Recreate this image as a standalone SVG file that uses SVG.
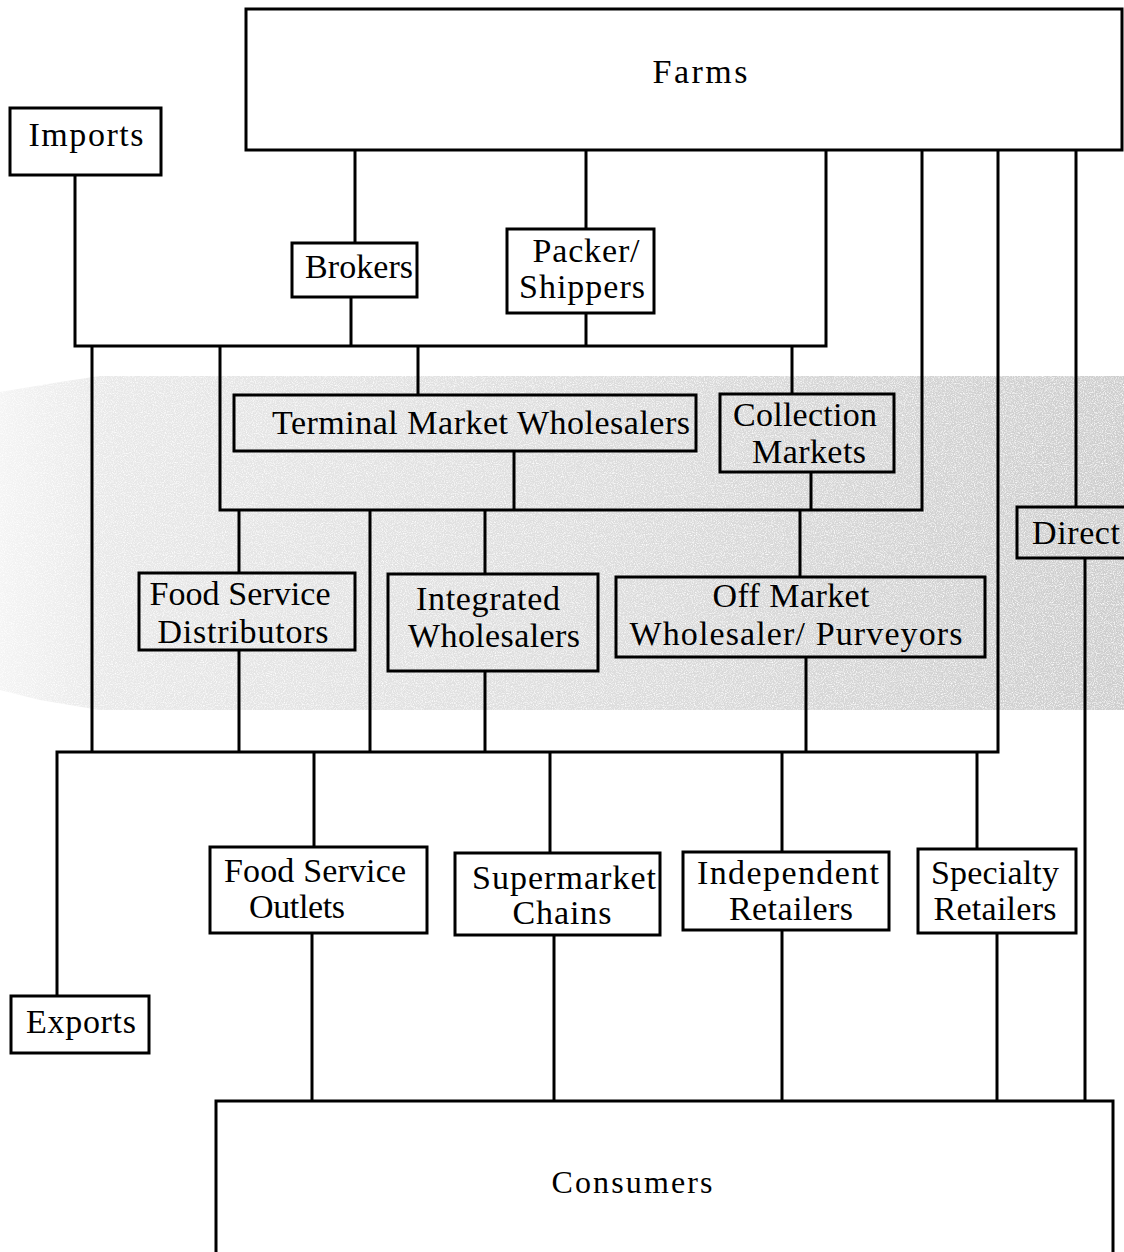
<svg xmlns="http://www.w3.org/2000/svg" width="1124" height="1252" viewBox="0 0 1124 1252">
<style>
.box{fill:#ffffff;stroke:#000;stroke-width:3}
.boxg{fill:none;stroke:#000;stroke-width:3}
.con{fill:none;stroke:#000;stroke-width:3}
text{font-family:"Liberation Serif","Times New Roman",serif;font-size:34px;fill:#000;text-anchor:middle}
</style>
<defs>
<linearGradient id="band" x1="0" y1="0" x2="1" y2="0">
<stop offset="0" stop-color="#f4f4f4"/>
<stop offset="0.1" stop-color="#e8e8e8"/>
<stop offset="0.5" stop-color="#dedede"/>
<stop offset="0.85" stop-color="#d2d2d2"/>
<stop offset="1" stop-color="#cdcdcd"/>
</linearGradient>
<filter id="speckle" x="0" y="0" width="1" height="1">
<feTurbulence type="fractalNoise" baseFrequency="0.9" numOctaves="2" seed="3" result="n"/>
<feColorMatrix in="n" type="matrix" values="0 0 0 0 1  0 0 0 0 1  0 0 0 0 1  0 0 0 -2.2 1.25" result="w"/>
<feComposite in="w" in2="SourceGraphic" operator="in" result="wm"/>
<feMerge><feMergeNode in="SourceGraphic"/><feMergeNode in="wm"/></feMerge>
</filter>
</defs>
<rect width="1124" height="1252" fill="#ffffff"/>
<g id="background-band">
<path d="M0 392 L60 382 L100 376 L1124 376 L1124 710 L100 710 L40 700 L0 690 Z" fill="url(#band)" filter="url(#speckle)"/>
</g>
<g id="connectors">
<path class="con" d="M355 150 V243"/>
<path class="con" d="M586 150 V229"/>
<path class="con" d="M75 175 V346 H826 V150"/>
<path class="con" d="M351 297 V346"/>
<path class="con" d="M586 313 V346"/>
<path class="con" d="M92 346 V752"/>
<path class="con" d="M220 346 V510 H922 V150"/>
<path class="con" d="M418 346 V395"/>
<path class="con" d="M792 346 V394"/>
<path class="con" d="M514 451 V510"/>
<path class="con" d="M811 472 V510"/>
<path class="con" d="M239 510 V573"/>
<path class="con" d="M370 510 V752"/>
<path class="con" d="M485 510 V574"/>
<path class="con" d="M800 510 V577"/>
<path class="con" d="M239 650 V752"/>
<path class="con" d="M485 671 V752"/>
<path class="con" d="M806 657 V752"/>
<path class="con" d="M57 996 V752 H998 V150"/>
<path class="con" d="M1076 150 V507"/>
<path class="con" d="M314 752 V847"/>
<path class="con" d="M550 752 V853"/>
<path class="con" d="M782 752 V852"/>
<path class="con" d="M977 752 V849"/>
<path class="con" d="M312 933 V1101"/>
<path class="con" d="M554 935 V1101"/>
<path class="con" d="M782 930 V1101"/>
<path class="con" d="M997 933 V1101"/>
<path class="con" d="M1085 558 V1101"/>
</g>
<g id="farms"><rect class="box" x="246" y="9" width="876" height="141"/><text x="700" y="83" textLength="95">Farms</text></g>
<g id="imports"><rect class="box" x="10" y="108" width="151" height="67"/><text x="86" y="146" textLength="115">Imports</text></g>
<g id="brokers"><rect class="box" x="292" y="243" width="125" height="54"/><text x="359" y="278" textLength="108">Brokers</text></g>
<g id="packer-shippers"><rect class="box" x="507" y="229" width="147" height="84"/><text x="586" y="262" textLength="107">Packer/</text><text x="582" y="298" textLength="126">Shippers</text></g>
<g id="terminal-market-wholesalers"><rect class="boxg" x="234" y="395" width="462" height="56"/><text x="481" y="434" textLength="418">Terminal Market Wholesalers</text></g>
<g id="collection-markets"><rect class="boxg" x="720" y="394" width="174" height="78"/><text x="805" y="426" textLength="144">Collection</text><text x="809" y="463" textLength="114">Markets</text></g>
<g id="food-service-distributors"><rect class="boxg" x="139" y="573" width="216" height="77"/><text x="240" y="605" textLength="181">Food Service</text><text x="243" y="643" textLength="171">Distributors</text></g>
<g id="integrated-wholesalers"><rect class="boxg" x="388" y="574" width="210" height="97"/><text x="488" y="610" textLength="144">Integrated</text><text x="494" y="647" textLength="172">Wholesalers</text></g>
<g id="off-market-wholesaler-purveyors"><rect class="boxg" x="616" y="577" width="369" height="80"/><text x="791" y="607" textLength="157">Off Market</text><text x="796" y="645" textLength="333">Wholesaler/ Purveyors</text></g>
<g id="direct"><rect class="boxg" x="1017" y="507" width="120" height="51"/><text x="1032" y="544" textLength="88" style="text-anchor:start">Direct</text></g>
<g id="food-service-outlets"><rect class="box" x="210" y="847" width="217" height="86"/><text x="315" y="882" textLength="182">Food Service</text><text x="297" y="918" textLength="96">Outlets</text></g>
<g id="supermarket-chains"><rect class="box" x="455" y="853" width="205" height="82"/><text x="564" y="889" textLength="184">Supermarket</text><text x="562" y="924" textLength="99">Chains</text></g>
<g id="independent-retailers"><rect class="box" x="683" y="852" width="206" height="78"/><text x="788" y="884" textLength="182">Independent</text><text x="791" y="920" textLength="124">Retailers</text></g>
<g id="specialty-retailers"><rect class="box" x="918" y="849" width="158" height="84"/><text x="995" y="884" textLength="128">Specialty</text><text x="995" y="920" textLength="123">Retailers</text></g>
<g id="exports"><rect class="box" x="11" y="996" width="138" height="57"/><text x="81" y="1033" textLength="110">Exports</text></g>
<g id="consumers"><rect class="box" x="216" y="1101" width="897" height="170"/><text x="632" y="1193" textLength="161" style="font-size:32px">Consumers</text></g>
</svg>
